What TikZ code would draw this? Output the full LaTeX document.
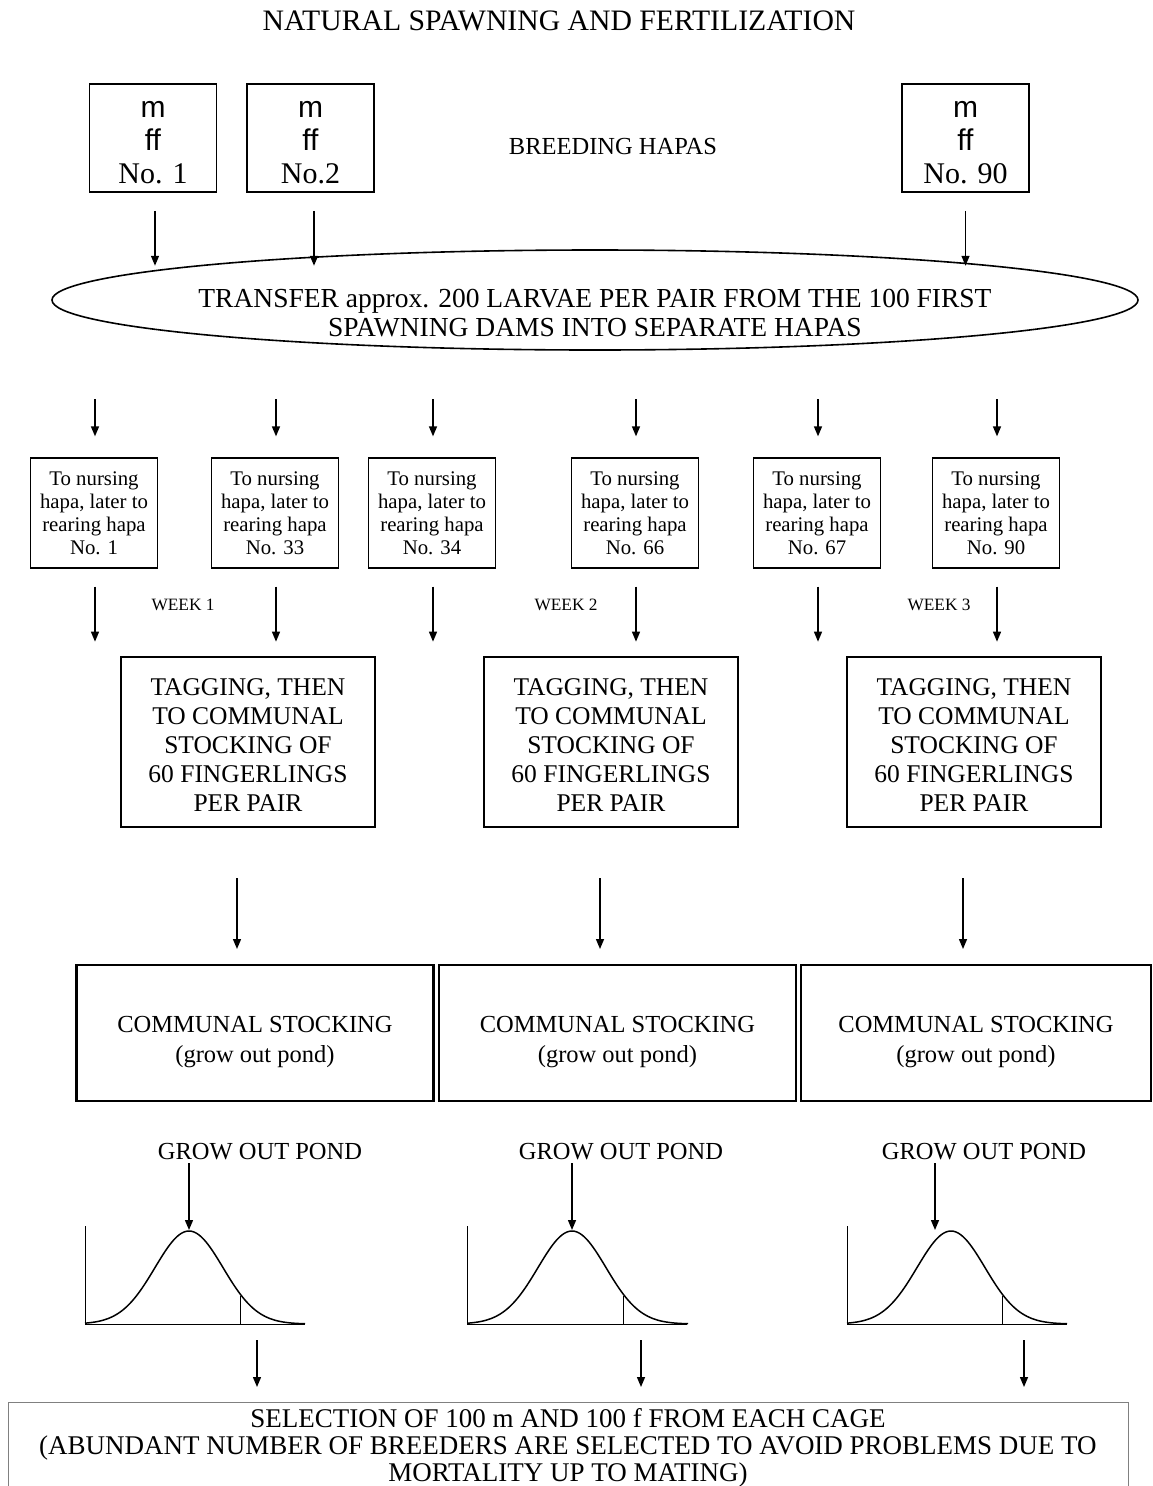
\documentclass[tikz,border=0pt]{standalone}
\usepackage{fontspec}
\setmainfont{Liberation Serif}
\newfontfamily\arialfont[Ligatures=NoCommon]{Liberation Sans}
\usetikzlibrary{shapes.geometric,arrows.meta,positioning}
\tikzset{
  hapa/.style={draw,line width=1.5pt,minimum width=127pt,minimum height=108pt,align=center,inner sep=0pt,font=\fontsize{30}{33}\selectfont},
  nurse/.style={draw,line width=1.3pt,minimum width=127pt,minimum height=110pt,align=center,inner sep=0pt,font=\fontsize{20.8}{23}\selectfont},
  tagbox/.style={draw,line width=2pt,minimum width=254pt,minimum height=170pt,align=center,inner sep=0pt,font=\fontsize{25.5}{29}\selectfont},
  pondbox/.style={draw,line width=2.5pt,minimum height=136pt,align=center,inner sep=0pt,font=\fontsize{24.5}{30}\selectfont},
  lbl/.style={font=\fontsize{24.5}{30}\selectfont},
  week/.style={font=\fontsize{17.3}{20}\selectfont},
  arr/.style={-{Triangle[length=10pt,width=8pt]},line width=1.4pt},
}
\newcommand{\hapatext}[1]{\rule{0pt}{26pt}{\arialfont m}\\{\arialfont ff}\\#1}
\newcommand{\nursetext}[1]{To nursing\\hapa, later to\\rearing hapa\\No. #1}
\newcommand{\tagtext}{\rule{0pt}{22pt}TAGGING, THEN\\TO COMMUNAL\\STOCKING OF\\60 FINGERLINGS\\PER PAIR}
\newcommand{\pondtext}{\rule{0pt}{35pt}COMMUNAL STOCKING\\(grow out pond)}
\begin{document}
\begin{tikzpicture}[x=1pt,y=-1pt]
\useasboundingbox (0,0) rectangle (1153,1486);
\clip (0,0) rectangle (1153,1486);
\node[font=\fontsize{29.7}{32}\selectfont] (title) at (559,21) {NATURAL SPAWNING AND FERTILIZATION};
% breeding hapas
\node[hapa] (h1) at (153,138) {\hapatext{No. 1}};
\node[hapa] (h2) at (310.5,138) {\hapatext{No.2}};
\node[hapa] (h3) at (965.5,138) {\hapatext{No. 90}};
\node[lbl] (breed) at (613,147) {BREEDING HAPAS};
\node[ellipse,draw,line width=1.6pt,minimum width=1086pt,minimum height=100pt] (transfer) at (595,300) {};
\node[align=center,font=\fontsize{27.5}{29}\selectfont] (transfertxt) at (595,313) {TRANSFER approx. 200 LARVAE PER PAIR FROM THE 100 FIRST\\SPAWNING DAMS INTO SEPARATE HAPAS};
\draw[arr] ([xshift=2pt,yshift=-18pt]h1.south) -- ([xshift=2pt,yshift=-73pt]h1.south);
\draw[arr] ([xshift=3.5pt,yshift=-18pt]h2.south) -- ([xshift=3.5pt,yshift=-73pt]h2.south);
\draw[arr] ([yshift=-18pt]h3.south) -- ([yshift=-73pt]h3.south);
% nursing hapas
\node[nurse] (n1) at (94,513) {\nursetext{1}};
\node[nurse] (n2) at (275,513) {\nursetext{33}};
\node[nurse] (n3) at (432,513) {\nursetext{34}};
\node[nurse] (n4) at (635,513) {\nursetext{66}};
\node[nurse] (n5) at (817,513) {\nursetext{67}};
\node[nurse] (n6) at (996,513) {\nursetext{90}};
\foreach \n in {n1,n2,n3,n4,n5,n6} {
  \draw[arr] ([xshift=1pt,yshift=58pt]\n.north) -- ([xshift=1pt,yshift=21pt]\n.north);
  \draw[arr] ([xshift=1pt,yshift=-18pt]\n.south) -- ([xshift=1pt,yshift=-73pt]\n.south);
}
\node[week] (w1) at (183,605) {WEEK 1};
\node[week] (w2) at (566,605) {WEEK 2};
\node[week] (w3) at (939,605) {WEEK 3};
% tagging
\node[tagbox] (t1) at (248,742) {\tagtext};
\node[tagbox] (t2) at (611,742) {\tagtext};
\node[tagbox] (t3) at (974,742) {\tagtext};
\foreach \t in {t1,t2,t3}
  \draw[arr] ([xshift=-11pt,yshift=-50pt]\t.south) -- ([xshift=-11pt,yshift=-121pt]\t.south);
% communal stocking
\node[pondbox,minimum width=357pt] (p1) at (255,1033) {\pondtext};
\node[pondbox,minimum width=357pt] (p2) at (617.5,1033) {\pondtext};
\node[pondbox,minimum width=350pt] (p3) at (976,1033) {\pondtext};
\node[lbl] (g1) at (260,1152) {GROW OUT POND};
\node[lbl] (g2) at (621,1152) {GROW OUT POND};
\node[lbl] (g3) at (984,1152) {GROW OUT POND};
% selection
\node[draw=gray,line width=1pt,minimum width=1120pt,anchor=north,align=center,inner ysep=6pt,font=\fontsize{27}{27}\selectfont] (sel) at (568,1402) {SELECTION OF 100 m AND 100 f FROM EACH CAGE\\(ABUNDANT NUMBER OF BREEDERS ARE SELECTED TO AVOID PROBLEMS DUE TO\\MORTALITY UP TO MATING)};
% distributions
\foreach \i/\ox/\pk/\ar/\sx in {1/85/189/189/257, 2/467/572/572/641, 3/847/951/935/1024} {
  \draw[line width=0.8pt] (\ox,1226) -- (\ox,1324) -- (\ox+220,1324);
  \draw[line width=1.5pt] plot[domain=-104:116,samples=90,smooth] ({\pk+\x},{1324-93*exp(-0.5*(\x/34)^2)});
  \draw[line width=0.8pt] (\pk+51,1296) -- (\pk+51,1324);
  \coordinate (gt\i) at (\ar,1163);
  \coordinate (pk\i) at (\ar,1230);
  \draw[arr] (gt\i) -- (pk\i);
  \coordinate (s\i) at (\sx,1340);
  \draw[arr] (s\i) -- ([yshift=15pt]s\i |- sel.north);
}
\end{tikzpicture}
\end{document}
